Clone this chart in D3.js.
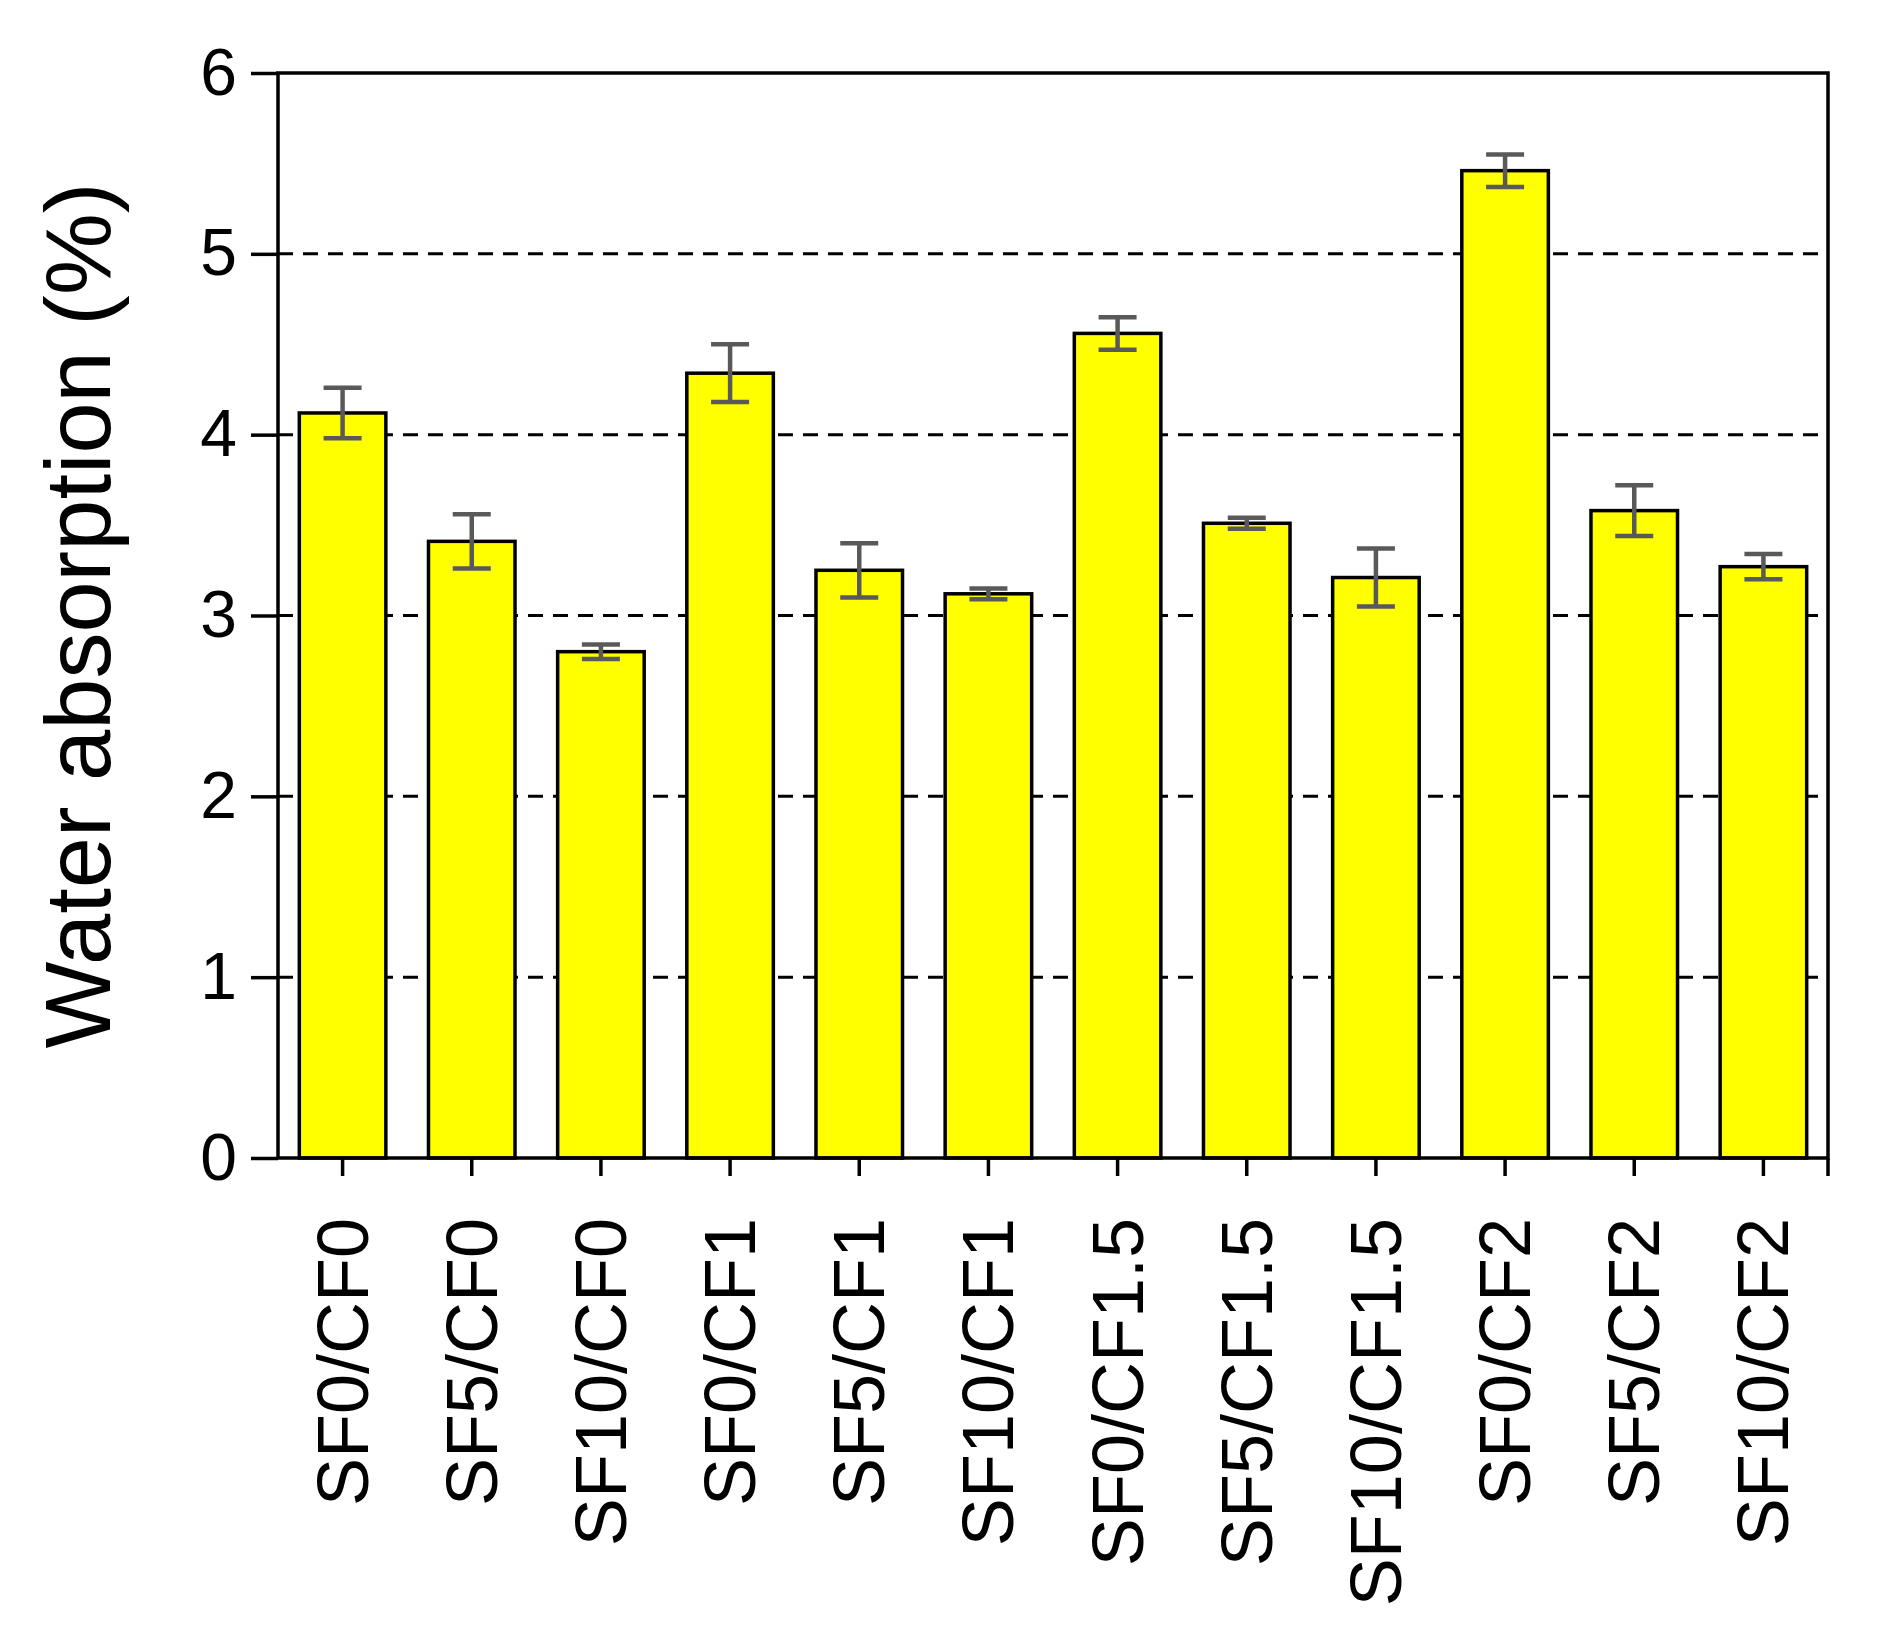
<!DOCTYPE html><html><head><script src="https://cdn.jsdelivr.net/npm/d3@7"></script>
<style>body{margin:0;background:#fff}</style></head><body><svg id="c" width="1880" height="1637"></svg>
<script>
const categories=["SF0/CF0","SF5/CF0","SF10/CF0","SF0/CF1","SF5/CF1","SF10/CF1","SF0/CF1.5","SF5/CF1.5","SF10/CF1.5","SF0/CF2","SF5/CF2","SF10/CF2"];
const values=[4.12,3.41,2.80,4.34,3.25,3.12,4.56,3.51,3.21,5.46,3.58,3.27];
const errors=[0.14,0.15,0.04,0.16,0.15,0.03,0.09,0.03,0.16,0.09,0.14,0.07];
const yTicks=[0,1,2,3,4,5,6];
const svg=d3.select("#c");
const L=278,R=1828,T=73,B=1158;
const x=d3.scaleBand().domain(categories).range([L,R]).paddingInner(0.33).paddingOuter(0.165);
const y=d3.scaleLinear().domain([0,6]).range([B,T]);
const font="Liberation Sans, Arial, sans-serif";
svg.append("g").selectAll("line").data([1,2,3,4,5]).join("line")
 .attr("x1",L).attr("x2",R).attr("y1",d=>y(d)).attr("y2",d=>y(d))
 .attr("stroke","#000").attr("stroke-width",3).attr("stroke-dasharray","15,10");
svg.append("g").selectAll("rect").data(values).join("rect")
 .attr("x",(d,i)=>x(categories[i])).attr("width",x.bandwidth())
 .attr("y",d=>y(d)).attr("height",d=>B-y(d))
 .attr("fill","#ffff00").attr("stroke","#000").attr("stroke-width",3.5);
const eg=svg.append("g").attr("stroke","#595959").attr("stroke-width",4.5);
values.forEach((v,i)=>{const cx=x(categories[i])+x.bandwidth()/2;
 eg.append("line").attr("x1",cx).attr("x2",cx).attr("y1",y(v-errors[i])).attr("y2",y(v+errors[i]));
 [v-errors[i],v+errors[i]].forEach(e=>eg.append("line").attr("x1",cx-19).attr("x2",cx+19).attr("y1",y(e)).attr("y2",y(e)));});
svg.append("rect").attr("x",L).attr("y",T).attr("width",R-L).attr("height",B-T).attr("fill","none").attr("stroke","#000").attr("stroke-width",3.5);
const ya=svg.append("g").attr("transform",`translate(${L},0)`).call(d3.axisLeft(y).tickValues(yTicks).tickFormat(d3.format("d")).tickSize(27).tickPadding(14));
ya.select(".domain").remove();
ya.selectAll("line").attr("stroke","#000").attr("stroke-width",3.5);
ya.selectAll("text").attr("font-family",font).attr("font-size",66).attr("fill","#000");
const xa=svg.append("g").attr("transform",`translate(0,${B})`).call(d3.axisBottom(x).tickSize(18).tickFormat(""));
xa.select(".domain").remove();
xa.selectAll("line").attr("stroke","#000").attr("stroke-width",3.5);
svg.append("line").attr("x1",R).attr("x2",R).attr("y1",B).attr("y2",B+18).attr("stroke","#000").attr("stroke-width",3.5);
svg.append("g").selectAll("text").data(categories).join("text")
 .attr("transform",d=>`translate(${x(d)+x.bandwidth()/2+25},1218) rotate(-90)`)
 .attr("text-anchor","end").attr("font-family",font).attr("font-size",72).text(d=>d);
svg.append("text").attr("transform",`translate(110,${(T+B)/2}) rotate(-90)`).attr("text-anchor","middle")
 .attr("font-family",font).attr("font-size",92).text("Water absorption (%)");
</script></body></html>
